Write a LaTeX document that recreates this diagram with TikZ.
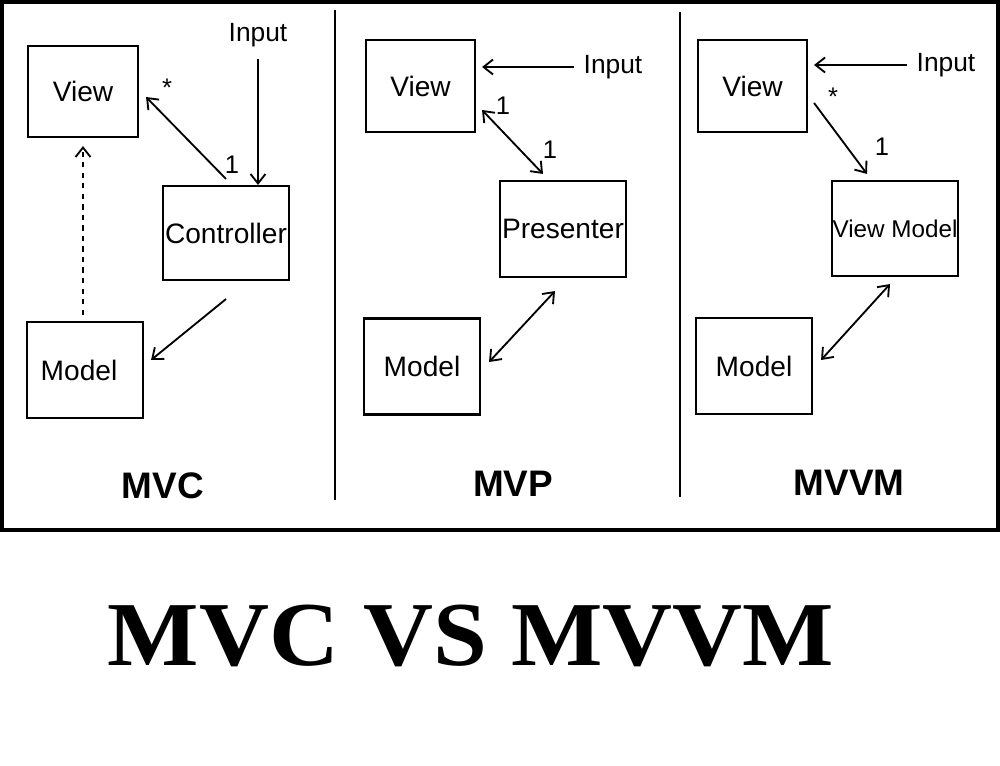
\documentclass[tikz,border=0pt]{standalone}
\usepackage{fontspec}
\setmainfont{Liberation Sans}
\newfontfamily\judulfont{Liberation Serif}
\usepackage{xcolor}
\usepackage{tikz}
\usetikzlibrary{arrows.meta, positioning}
\tikzset{
  modul/.style={rectangle, draw=black, line width=1.2pt, inner sep=0pt,
    minimum width=23.2mm, minimum height=19.2mm, align=center,
    font=\fontsize{16}{18}\selectfont},
  tanda/.style={-{Straight Barb[length=1.9mm, width=3mm]}, line width=1.05pt},
  tandadua/.style={{Straight Barb[length=1.9mm, width=3mm]}-{Straight Barb[length=1.9mm, width=3mm]}, line width=1.05pt},
  putus/.style={tanda, dashed},
  masuk/.style={inner sep=0pt, font=\fontsize{15}{17}\selectfont},
  angka/.style={inner sep=0pt, font=\fontsize{14.5}{16}\selectfont},
  pola/.style={inner sep=0pt, font=\bfseries\fontsize{21}{24}\selectfont}
}

\begin{document}
\begin{tikzpicture}[x=0.2mm, y=-0.2mm]
  \fill[white] (0,0) rectangle (1000,766);
  \useasboundingbox (0,0) rectangle (1000,766);
  \draw[line width=2pt] (1.8,1.8) rectangle (998,530);
  \draw[line width=1.1pt] (335,10) -- (335,500);
  \draw[line width=1.1pt] (680,12) -- (680,497);

  % MVC
  \node[modul, minimum width=22mm, minimum height=18.2mm] (viewA) at (83,91.5) {View};
  \node[modul, minimum width=25.2mm, minimum height=18.8mm] (ctrl) at (226,233) {Controller};
  \node[modul] (modA) at (85,370) {Model\hspace*{2.4mm}};
  \node[masuk] (inpA) at (258,35) {Input};
  \node[angka] (bintangA) at (167,88) {*};
  \node[angka] (satuA) at (232,165) {1};
  \node[pola] (mvc) at (163,486) {MVC};
  \draw[tanda, shorten <=2.4mm] (inpA.south) -- (inpA.south |- ctrl.north);
  \draw[tanda] ([yshift=1.2mm]ctrl.north) -- ([xshift=1.4mm, yshift=-1.1mm]viewA.east);
  \draw[putus, shorten <=1.2mm, shorten >=1.6mm] (modA.north -| viewA.south) -- (viewA.south);
  \draw[tanda] ([yshift=-3.6mm]ctrl.south) -- ([xshift=1.4mm, yshift=2mm]modA.east);

  % MVP
  \node[modul, minimum width=21.8mm, minimum height=18.4mm] (viewB) at (420.5,86) {View};
  \node[modul, minimum width=25.2mm] (pres) at (563,229) {Presenter};
  \node[modul] (modB) at (422,366.5) {Model};
  \node[masuk] (inpB) at (613,67) {Input};
  \node[angka] (satuB) at (503,106) {1};
  \node[angka] (satuC) at (550,150) {1};
  \node[pola] (mvp) at (513,484) {MVP};
  \draw[tanda, shorten <=1.8mm, shorten >=1.2mm] (inpB.west) -- (inpB.west -| viewB.east);
  \draw[tandadua] ([xshift=1.2mm, yshift=-4.8mm]viewB.east) -- ([xshift=-4mm, yshift=1.2mm]pres.north);
  \draw[tandadua] ([xshift=-1.6mm, yshift=-2.6mm]pres.south) -- ([xshift=1.6mm, yshift=0.9mm]modB.east);

  % MVVM
  \node[modul, minimum width=21.8mm, minimum height=18.4mm] (viewC) at (752.5,86) {View};
  \node[modul, minimum width=25.2mm, minimum height=19mm, font=\fontsize{13.8}{16}\selectfont] (vm) at (895,228.5) {View Model};
  \node[modul] (modC) at (754,366) {Model};
  \node[masuk] (inpC) at (946,65) {Input};
  \node[angka] (bintangC) at (833,97) {*};
  \node[angka] (satuD) at (882,147) {1};
  \node[pola] (mvvm) at (849,483) {MVVM};
  \draw[tanda, shorten <=1.8mm, shorten >=1.2mm] (inpC.west) -- (inpC.west -| viewC.east);
  \draw[tanda] ([xshift=1.2mm, yshift=-3.4mm]viewC.east) -- ([xshift=-5.6mm, yshift=1.2mm]vm.north);
  \draw[tandadua] ([xshift=-1mm, yshift=-1.4mm]vm.south) -- ([xshift=1.6mm, yshift=1.2mm]modC.east);

  % judul
  \node[inner sep=0pt, xscale=1.06, font=\judulfont\bfseries\fontsize{52}{60}\selectfont] (judul) at (471,636) {MVC VS MVVM};
\end{tikzpicture}
\end{document}
